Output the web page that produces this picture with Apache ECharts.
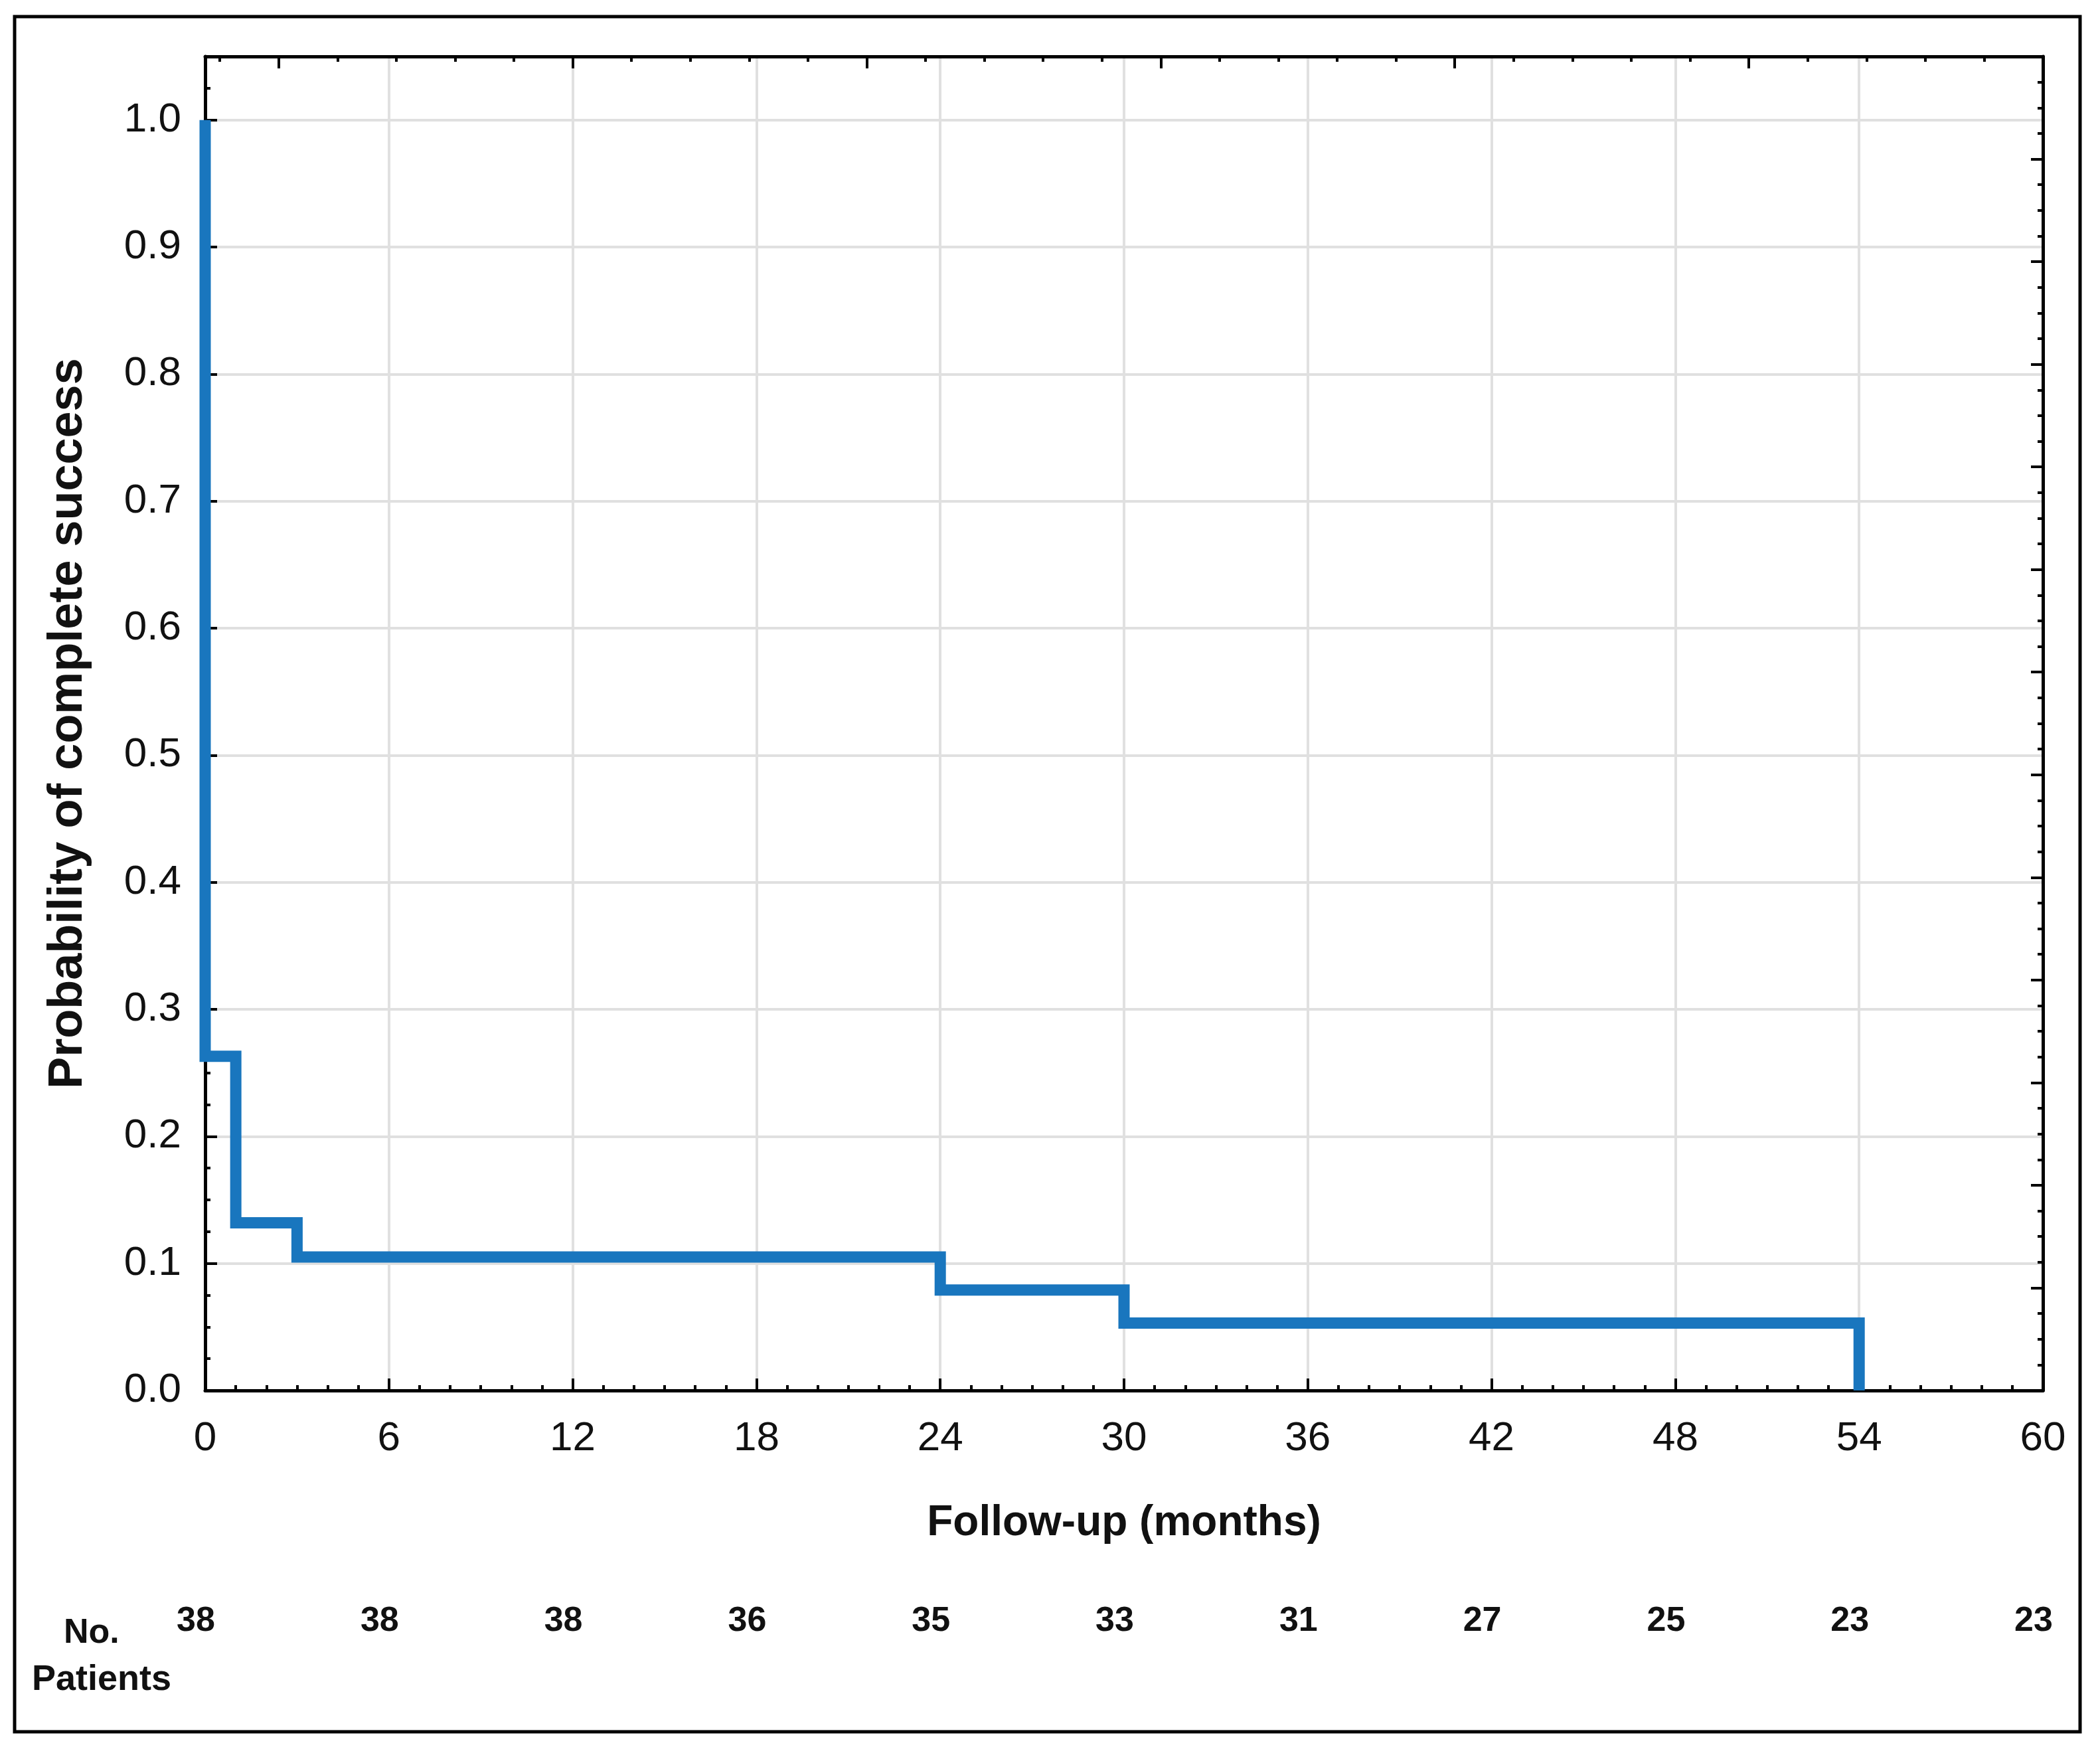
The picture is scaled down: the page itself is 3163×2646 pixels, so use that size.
<!DOCTYPE html>
<html>
<head>
<meta charset="utf-8">
<script src="https://cdn.jsdelivr.net/npm/echarts@6/dist/echarts.min.js"></script>
<style>
  html, body { margin: 0; padding: 0; background: #fff; }
  #chart { width: 3163px; height: 2646px; }
</style>
</head>
<body>
<div id="chart"></div>
<script>
// Kaplan-Meier steps: time (months) and probability after each event
var times = [0, 0, 1, 3, 24, 30, 54];
var survival = [1.0, 0.263, 0.132, 0.105, 0.079, 0.053, 0.0];
// numbers at risk under each 6-month tick (0 .. 60)
var patients = [38, 38, 38, 36, 35, 33, 31, 27, 25, 23, 23];

var FONT = 'Liberation Sans, Arial, sans-serif';
var INK = '#111';

var kmData = times.map(function (t, i) { return [t, survival[i]]; });

var chart = echarts.init(document.getElementById('chart'), null, { renderer: 'canvas' });

// same plot rectangle for every grid; extra grids only carry frame ticks
var plotBox = { left: 309, right: 86, top: 85, bottom: 552, containLabel: false };
var frameLine = { show: true, onZero: false, lineStyle: { color: '#000', width: 5 } };
var noLine = { show: false, onZero: false };
function ticks(len) {
  return { show: true, inside: true, length: len, lineStyle: { color: '#000', width: 4 } };
}

var option = {
  backgroundColor: '#fff',
  animation: false,
  grid: [plotBox, plotBox, plotBox, plotBox],
  graphic: [
    {
      type: 'rect', z: -1,
      shape: { x: 22, y: 25, width: 3111, height: 2583 },
      style: { fill: 'none', stroke: '#000', lineWidth: 5 }
    },
    {
      type: 'text', left: 96, top: 2434,
      style: { text: 'No.', font: 'bold 52px ' + FONT, fill: INK }
    },
    {
      type: 'text', left: 48, top: 2503,
      style: { text: 'Patients', font: 'bold 54px ' + FONT, fill: INK }
    }
  ],
  xAxis: [
    {
      gridIndex: 0, type: 'value', position: 'bottom', min: 0, max: 60, interval: 6,
      name: 'Follow-up (months)', nameLocation: 'middle', nameGap: 168,
      nameTextStyle: { fontFamily: FONT, fontWeight: 'bold', fontSize: 64, color: INK },
      axisLine: frameLine,
      axisTick: ticks(18),
      minorTick: { show: true, splitNumber: 6, length: 8, lineStyle: { color: '#000', width: 4 } },
      axisLabel: { margin: 42, fontFamily: FONT, fontSize: 62, color: INK },
      splitLine: { show: true, lineStyle: { color: '#e0e0e0', width: 4 } }
    },
    {
      // top frame, long ticks counted from the right edge
      gridIndex: 1, type: 'value', position: 'top', inverse: true, min: 0, max: 6.25, interval: 1,
      axisLine: frameLine,
      axisTick: ticks(18),
      axisLabel: { show: false },
      splitLine: { show: false }
    },
    {
      // top frame, short ticks
      gridIndex: 2, type: 'value', position: 'top', inverse: true, min: 0, max: 6.25, interval: 0.2,
      axisLine: noLine,
      axisTick: ticks(8),
      axisLabel: { show: false },
      splitLine: { show: false }
    },
    {
      // number of patients row
      gridIndex: 3, type: 'value', position: 'bottom', offset: 312, min: 0, max: 60, interval: 6,
      axisLine: noLine,
      axisTick: { show: false },
      splitLine: { show: false },
      axisLabel: {
        margin: 10, fontFamily: FONT, fontWeight: 'bold', fontSize: 52, color: INK,
        padding: [0, 28, 0, 0],
        formatter: function (v) { return String(patients[Math.round(v / 6)]); }
      }
    }
  ],
  yAxis: [
    {
      gridIndex: 0, type: 'value', position: 'left', min: 0, max: 1.05, interval: 0.1,
      name: 'Probability of complete success', nameLocation: 'middle', nameGap: 170,
      nameTextStyle: { fontFamily: FONT, fontWeight: 'bold', fontSize: 72, color: INK },
      axisLine: frameLine,
      axisTick: ticks(18),
      axisLabel: {
        margin: 36, fontFamily: FONT, fontSize: 62, color: INK, showMaxLabel: false,
        formatter: function (v) {
          return Math.abs(v * 10 - Math.round(v * 10)) < 1e-6 ? v.toFixed(1) : '';
        }
      },
      splitLine: { show: true, lineStyle: { color: '#e0e0e0', width: 4 } }
    },
    {
      // short ticks on the left frame
      gridIndex: 1, type: 'value', position: 'left', min: 0, max: 1.05, interval: 0.025,
      axisLine: noLine,
      axisTick: ticks(8),
      axisLabel: { show: false },
      splitLine: { show: false }
    },
    {
      // right frame with its own tick scale
      gridIndex: 2, type: 'value', position: 'right', min: 0, max: 13, interval: 1,
      axisLine: frameLine,
      axisTick: ticks(18),
      minorTick: { show: true, splitNumber: 4, length: 8, lineStyle: { color: '#000', width: 4 } },
      axisLabel: { show: false },
      splitLine: { show: false }
    },
    {
      gridIndex: 3, type: 'value', position: 'left', min: 0, max: 1, show: false,
      axisLine: noLine
    }
  ],
  series: [
    {
      name: 'Complete success',
      type: 'line',
      xAxisIndex: 0,
      yAxisIndex: 0,
      step: 'end',
      symbol: 'none',
      data: kmData,
      lineStyle: { color: '#1976be', width: 17, join: 'miter', cap: 'butt' },
      z: 3
    }
  ]
};

chart.setOption(option);
</script>
</body>
</html>
